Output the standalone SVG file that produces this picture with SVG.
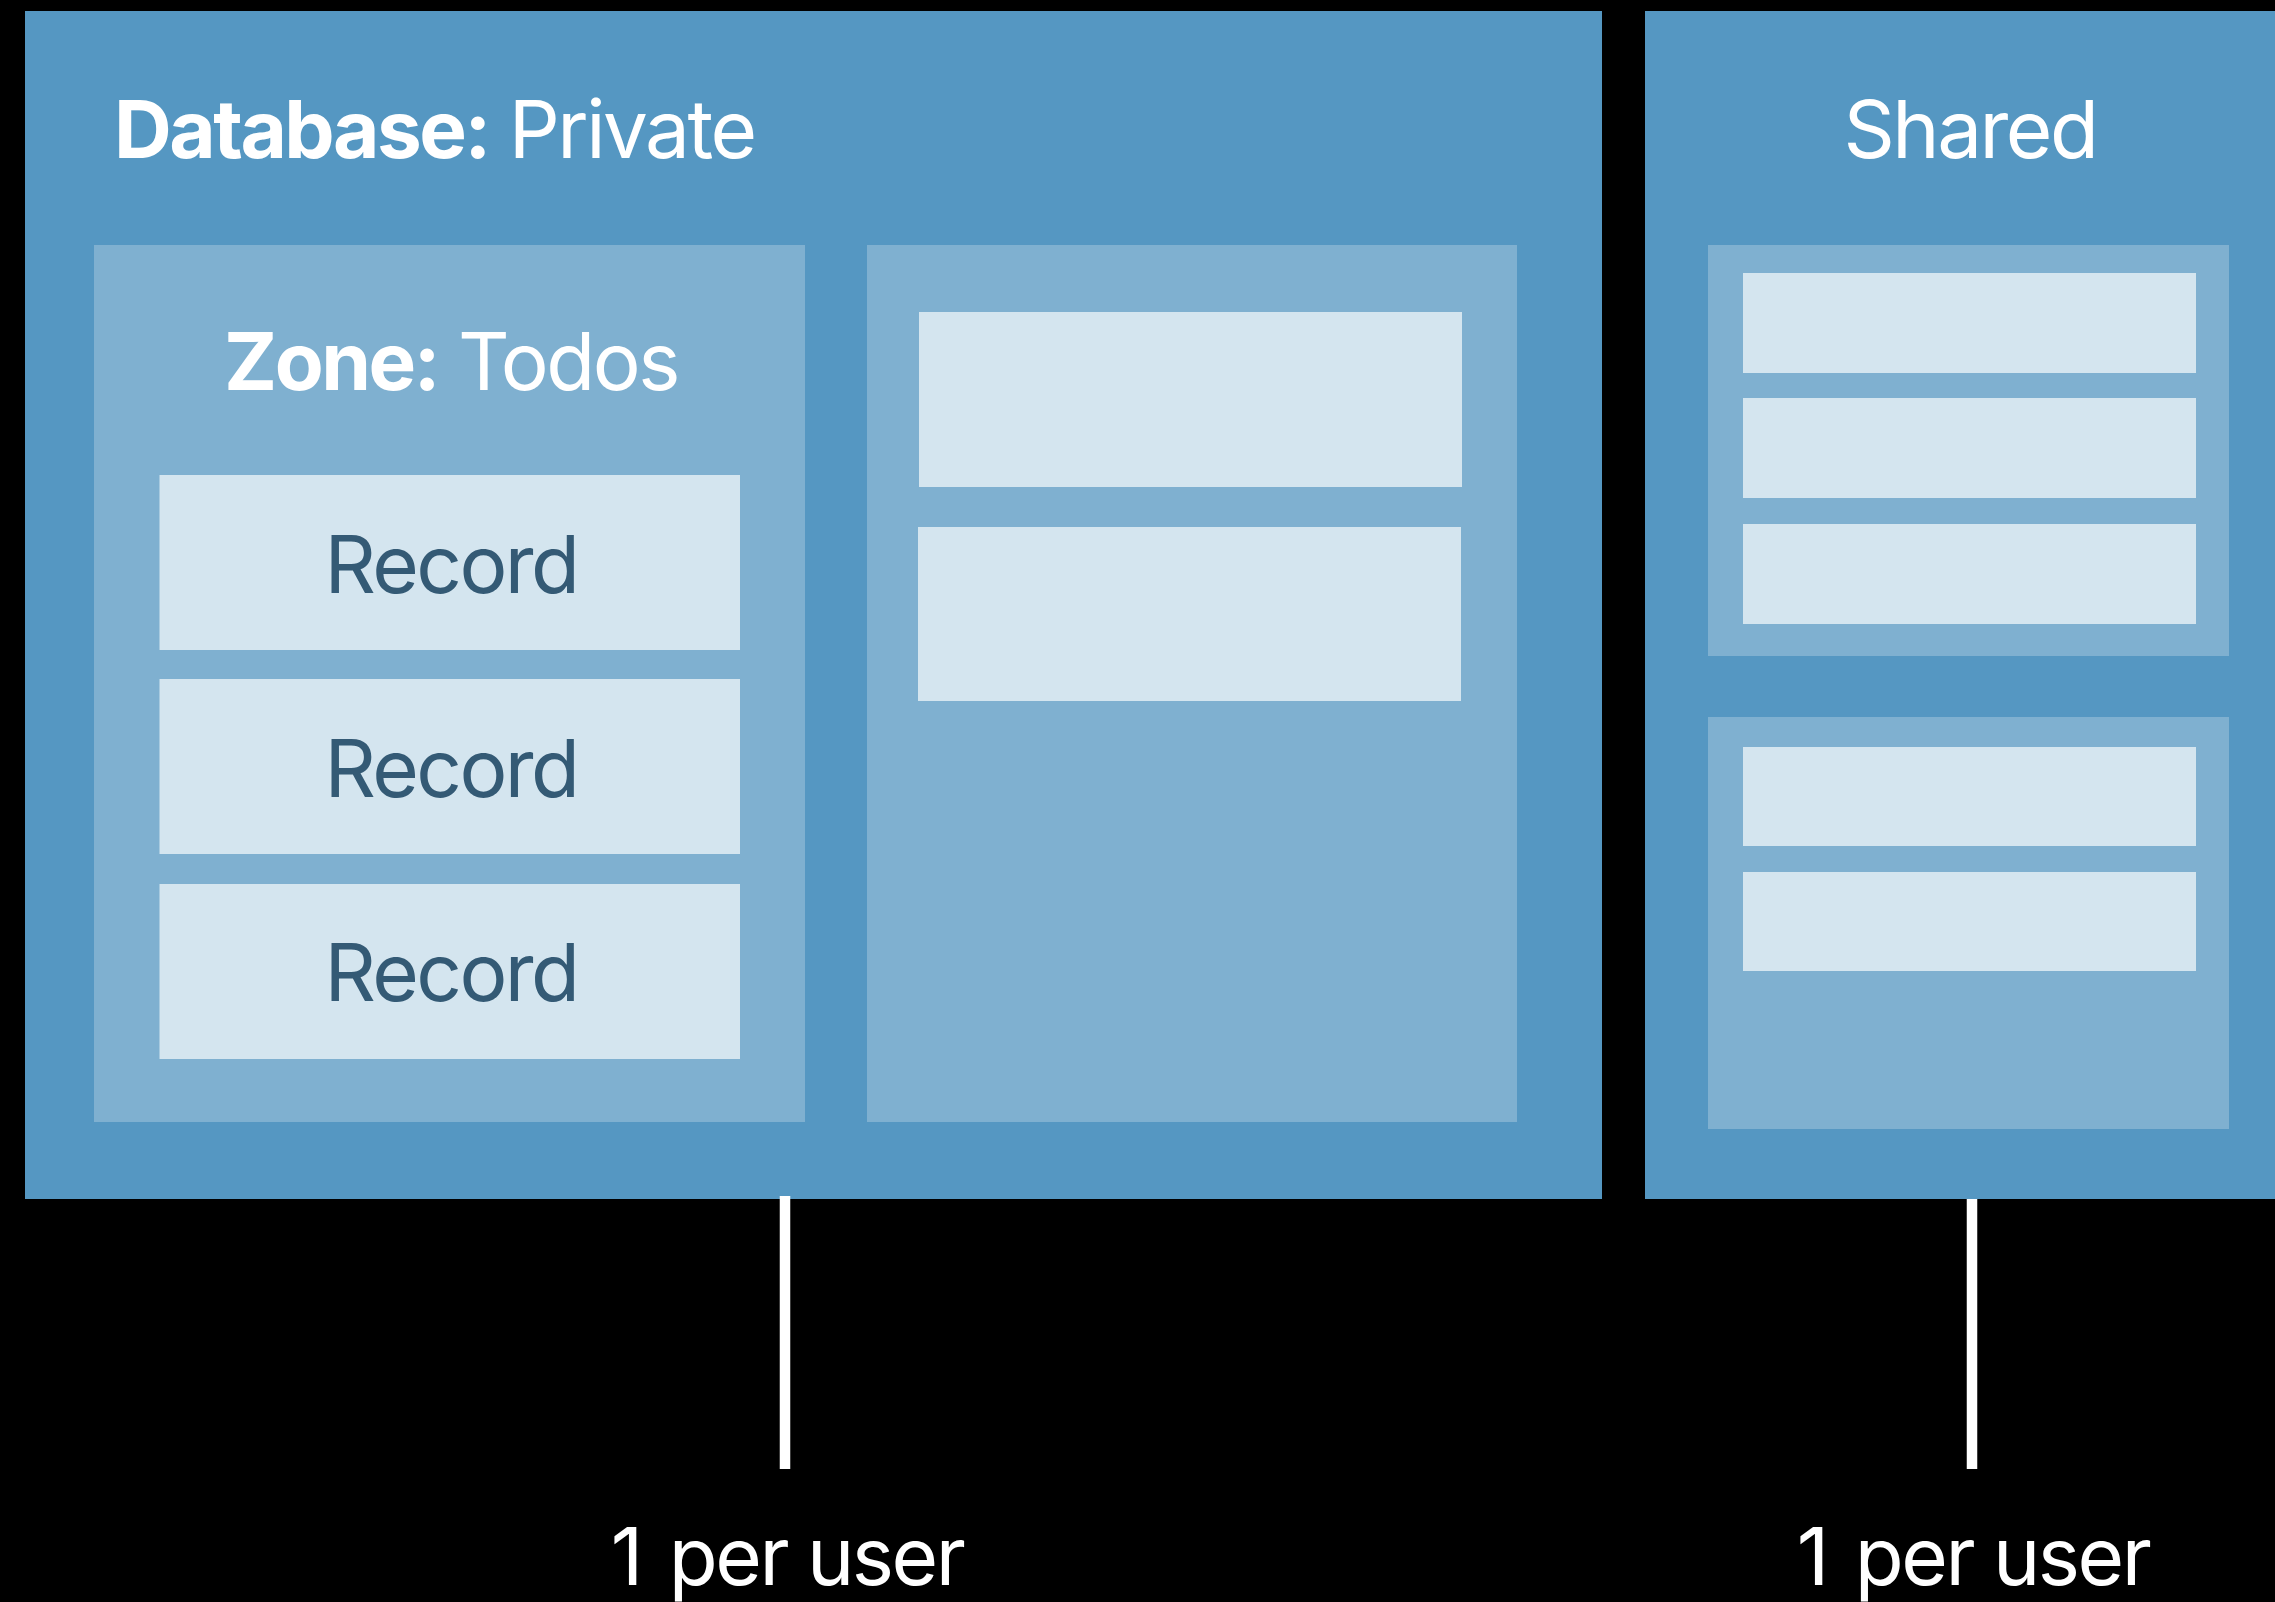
<svg xmlns="http://www.w3.org/2000/svg" width="2275" height="1602" viewBox="0 0 2275 1602">
<style>
.db{fill:#5597C2}
.zone{fill:#7FB0D0}
.rec{fill:#D4E5EF}
.t{font-family:Inter,"Liberation Sans",sans-serif;font-size:80px;fill:#FFFFFF;letter-spacing:-2.5px}
.rt{font-family:Inter,"Liberation Sans",sans-serif;font-size:80px;fill:#345A75;text-anchor:middle;letter-spacing:-2.6px}
.b{font-weight:700}
.conn{stroke:#FFFFFF;stroke-width:10.5;fill:none}
</style>
<rect x="0" y="0" width="2275" height="1602" fill="#000000"/>
<g id="db-private">
<rect class="db" x="25" y="11" width="1577" height="1188"/>
<text class="t" x="114" y="158"><tspan class="b">Database:</tspan> Private</text>
</g>
<g id="zone-todos">
<rect class="zone" x="94" y="245" width="711" height="877"/>
<text class="t" x="451" y="390" text-anchor="middle"><tspan class="b">Zone:</tspan> Todos</text>
</g>
<g id="record-1">
<rect class="rec" x="159.5" y="475" width="580.5" height="175"/>
<text class="rt" x="451" y="593">Record</text>
</g>
<g id="record-2">
<rect class="rec" x="159.5" y="679" width="580.5" height="175"/>
<text class="rt" x="451" y="797">Record</text>
</g>
<g id="record-3">
<rect class="rec" x="159.5" y="884" width="580.5" height="175"/>
<text class="rt" x="451" y="1001">Record</text>
</g>
<g id="zone-2">
<rect class="zone" x="867" y="245" width="650" height="877"/>
</g>
<g id="zone-2-record-1"><rect class="rec" x="919" y="312" width="543" height="175"/></g>
<g id="zone-2-record-2"><rect class="rec" x="918" y="527" width="543" height="174"/></g>
<g id="db-shared">
<rect class="db" x="1645" y="11" width="630" height="1188"/>
<text class="t" x="1970" y="158" text-anchor="middle">Shared</text>
</g>
<g id="shared-zone-1">
<rect class="zone" x="1708" y="245" width="521" height="411"/>
</g>
<g id="shared-zone-1-record-1"><rect class="rec" x="1743" y="273" width="453" height="100"/></g>
<g id="shared-zone-1-record-2"><rect class="rec" x="1743" y="398" width="453" height="100"/></g>
<g id="shared-zone-1-record-3"><rect class="rec" x="1743" y="524" width="453" height="100"/></g>
<g id="shared-zone-2">
<rect class="zone" x="1708" y="717" width="521" height="412"/>
</g>
<g id="shared-zone-2-record-1"><rect class="rec" x="1743" y="747" width="453" height="99"/></g>
<g id="shared-zone-2-record-2"><rect class="rec" x="1743" y="872" width="453" height="99"/></g>
<g id="connectors">
<line class="conn" x1="785" y1="1196" x2="785" y2="1469"/>
<line class="conn" x1="1972" y1="1199" x2="1972" y2="1469"/>
</g>
<g id="label-private">
<text class="t" x="787" y="1585" text-anchor="middle">1<tspan dx="8"> per user</tspan></text>
</g>
<g id="label-shared">
<text class="t" x="1973" y="1585" text-anchor="middle">1<tspan dx="8"> per user</tspan></text>
</g>
</svg>
